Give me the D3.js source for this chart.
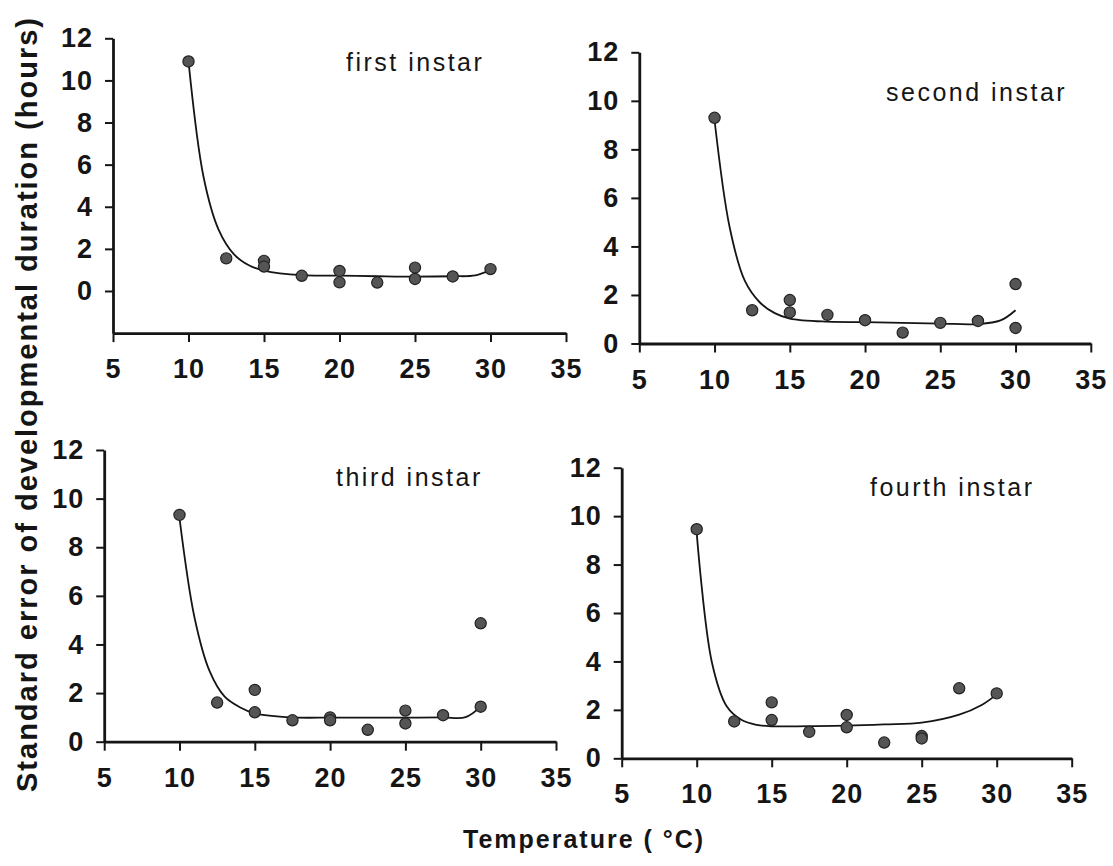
<!DOCTYPE html>
<html><head><meta charset="utf-8">
<script src="https://cdn.jsdelivr.net/npm/d3@7"></script>
<style>
body{margin:0;background:#fff}
svg{display:block}
text{font-family:"Liberation Sans",Arial,sans-serif}
</style></head><body>
<svg id="chart" width="1113" height="866"></svg>
<script>
// ---- data ----
const xTicks = [5, 10, 15, 20, 25, 30, 35];
const yTicks = [0, 2, 4, 6, 8, 10, 12];
const panelTitles = ["first instar", "second instar", "third instar", "fourth instar"];
const yAxisTitle = "Standard error of developmental duration (hours)";
const xAxisTitle = "Temperature ( °C)";

// observed standard errors
const firstT  = [10, 12.5, 15, 15, 17.5, 20, 20, 22.5, 25, 25, 27.5, 30];
const firstSE = [10.9, 1.55, 1.43, 1.16, 0.72, 0.95, 0.41, 0.40, 1.11, 0.57, 0.69, 1.04];
const secondT  = [10, 12.5, 15, 15, 17.5, 20, 22.5, 25, 27.5, 30, 30];
const secondSE = [9.3, 1.37, 1.79, 1.28, 1.18, 0.96, 0.45, 0.85, 0.93, 2.45, 0.64];
const thirdT  = [10, 12.5, 15, 15, 17.5, 20, 20, 22.5, 25, 25, 27.5, 30, 30];
const thirdSE = [9.33, 1.61, 2.13, 1.21, 0.88, 1.0, 0.88, 0.49, 1.28, 0.75, 1.09, 4.87, 1.44];
const fourthT  = [10, 12.5, 15, 15, 17.5, 20, 20, 22.5, 25, 25, 27.5, 30];
const fourthSE = [9.46, 1.52, 2.31, 1.58, 1.09, 1.79, 1.28, 0.65, 0.92, 0.82, 2.89, 2.68];

// fitted curves
const fitT      = [10, 11, 12, 13, 14, 15, 17.5, 20, 22.5, 25, 27.5, 29, 30];
const firstFit  = [10.9, 5.4, 2.9, 1.75, 1.22, 0.97, 0.75, 0.73, 0.70, 0.68, 0.70, 0.74, 1.0];
const secondFit = [9.2, 4.8, 2.6, 1.7, 1.25, 1.03, 0.9, 0.88, 0.85, 0.82, 0.8, 0.95, 1.37];
const thirdFit  = [9.2, 5.1, 2.9, 1.85, 1.42, 1.17, 1.0, 0.99, 0.99, 0.99, 1.0, 1.01, 1.44];
const fourthFit = [9.3, 4.0, 2.15, 1.58, 1.38, 1.32, 1.33, 1.35, 1.4, 1.47, 1.8, 2.2, 2.64];

// ---- layout ----
const panels = [
  {T: firstT,  SE: firstSE,  fit: firstFit,  yMin: -2, xr: [113, 566],      yr: [333.1, 38.3], title: [346, 71]},
  {T: secondT, SE: secondSE, fit: secondFit, yMin: 0,  xr: [639.3, 1090.8], yr: [343.5, 52.3], title: [886, 101]},
  {T: thirdT,  SE: thirdSE,  fit: thirdFit,  yMin: 0,  xr: [104.2, 556],    yr: [741.7, 450],  title: [336, 486]},
  {T: fourthT, SE: fourthSE, fit: fourthFit, yMin: 0,  xr: [621.7, 1071.7], yr: [758.3, 467.7], title: [870, 496]}
];

const svg = d3.select("#chart");
const ink = "#151515";
const ff = '"Liberation Sans", Arial, sans-serif';

panels.forEach((p, i) => {
  const g = svg.append("g");
  const x = d3.scaleLinear().domain([5, 35]).range(p.xr);
  const y = d3.scaleLinear().domain([p.yMin, 12]).range(p.yr);

  const xa = g.append("g").attr("transform", `translate(0,${y(p.yMin)})`)
    .call(d3.axisBottom(x).tickValues(xTicks).tickSize(9).tickPadding(17).tickSizeOuter(0));
  const ya = g.append("g").attr("transform", `translate(${x(5)},0)`)
    .call(d3.axisLeft(y).tickValues(yTicks).tickSize(8).tickPadding(12).tickSizeOuter(0));
  [xa, ya].forEach(a => {
    a.attr("font-size", 27).attr("font-family", ff).attr("font-weight", "bold");
    a.select(".domain").attr("stroke", ink).attr("stroke-width", 2.8);
    a.selectAll(".tick line").attr("stroke", ink).attr("stroke-width", 2);
    a.selectAll(".tick text").attr("fill", ink).attr("letter-spacing", 1);
  });

  const line = d3.line().x(d => x(d[0])).y(d => y(d[1])).curve(d3.curveCatmullRom.alpha(0.5));
  g.append("path").datum(fitT.map((t, k) => [t, p.fit[k]]))
    .attr("d", line).attr("fill", "none").attr("stroke", ink).attr("stroke-width", 1.8);

  g.selectAll("circle.pt").data(p.T.map((t, k) => [t, p.SE[k]])).join("circle")
    .attr("class", "pt").attr("cx", d => x(d[0])).attr("cy", d => y(d[1])).attr("r", 5.6)
    .attr("fill", "#555").attr("stroke", "#222").attr("stroke-width", 1.2);

  g.append("text").attr("x", p.title[0]).attr("y", p.title[1])
    .attr("font-size", 25).attr("letter-spacing", 2.5).attr("fill", ink)
    .text(panelTitles[i]);
});

svg.append("text").attr("transform", "translate(37,404) rotate(-90)")
  .attr("text-anchor", "middle").attr("font-size", 29).attr("font-weight", "bold")
  .attr("letter-spacing", 2).attr("fill", ink).text(yAxisTitle);

svg.append("text").attr("x", 463).attr("y", 848)
  .attr("font-size", 25).attr("font-weight", "bold").attr("letter-spacing", 2)
  .attr("fill", ink).text(xAxisTitle);
</script>
</body></html>
